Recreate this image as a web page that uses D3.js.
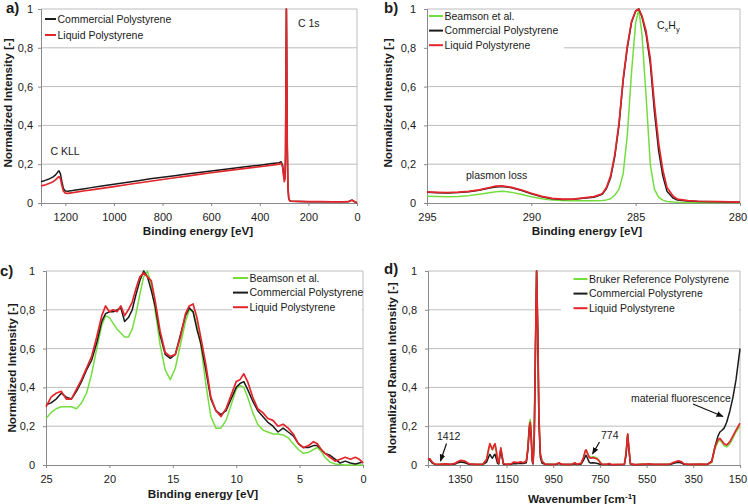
<!DOCTYPE html>
<html>
<head>
<meta charset="utf-8">
<script src="https://cdn.jsdelivr.net/npm/d3@7/dist/d3.min.js"></script>
<style>
  body { margin: 0; background: #fff; }
  svg { font-family: "Liberation Sans", Arial, sans-serif; }
</style>
</head>
<body>
<div class="figure"></div>
<script>
// ---- a) XPS survey spectra ----
var surveyEnergy = [1300, 1290, 1280, 1270, 1260, 1250, 1240, 1232, 1226, 1220,
  1214, 1208, 1200, 1190, 1170, 1150, 1120, 1100, 1050, 1000,
  950, 900, 850, 800, 750, 700, 650, 600, 550, 500,
  450, 400, 350, 320, 312, 306, 302, 299, 296, 294,
  292, 290.5, 289, 287, 284, 281, 277, 270, 240, 200,
  150, 100, 60, 35, 25, 20, 14, 8, 0];
var surveyCommercial = [0.110, 0.113, 0.118, 0.122, 0.128, 0.135, 0.145, 0.158, 0.166, 0.150,
  0.110, 0.075, 0.062, 0.061, 0.064, 0.068, 0.074, 0.078, 0.088, 0.097,
  0.106, 0.115, 0.125, 0.133, 0.141, 0.149, 0.157, 0.165, 0.173, 0.180,
  0.188, 0.195, 0.203, 0.208, 0.213, 0.195, 0.150, 0.125, 0.140, 0.250,
  0.700, 1.000, 0.750, 0.300, 0.080, 0.025, 0.012, 0.009, 0.008, 0.007,
  0.007, 0.006, 0.006, 0.007, 0.013, 0.015, 0.010, 0.005, 0.001];
var surveyLiquid = [0.088, 0.091, 0.094, 0.099, 0.104, 0.110, 0.119, 0.130, 0.136, 0.125,
  0.090, 0.062, 0.051, 0.050, 0.053, 0.057, 0.063, 0.066, 0.075, 0.084,
  0.094, 0.103, 0.112, 0.121, 0.130, 0.139, 0.148, 0.156, 0.164, 0.172,
  0.180, 0.187, 0.195, 0.200, 0.205, 0.185, 0.140, 0.110, 0.125, 0.240,
  0.690, 1.000, 0.760, 0.310, 0.085, 0.028, 0.012, 0.009, 0.008, 0.007,
  0.007, 0.006, 0.006, 0.007, 0.013, 0.014, 0.010, 0.005, 0.001];

// ---- b) C 1s region ----
var c1sEnergy = [295, 294.5, 294, 293.5, 293, 292.5, 292, 291.7, 291.4, 291,
  290.5, 290, 289.5, 289, 288.5, 288, 287.5, 287, 286.6, 286.4,
  286.2, 286.0, 285.8, 285.6, 285.4, 285.2, 285.0, 284.85, 284.7, 284.5,
  284.3, 284.1, 283.9, 283.7, 283.5, 283.2, 283, 282.5, 282, 281, 280];
var c1sBeamson = [0.035, 0.033, 0.032, 0.034, 0.038, 0.045, 0.053, 0.058, 0.060, 0.056,
  0.045, 0.032, 0.022, 0.016, 0.013, 0.012, 0.012, 0.012, 0.013, 0.016,
  0.022, 0.040, 0.070, 0.150, 0.350, 0.670, 0.930, 1.000, 0.870, 0.550,
  0.200, 0.070, 0.030, 0.015, 0.008, 0.005, 0.004, 0.003, 0.003, 0.002, 0.002];
var c1sCommercial = [0.055, 0.053, 0.052, 0.054, 0.058, 0.066, 0.077, 0.083, 0.085, 0.080,
  0.066, 0.048, 0.032, 0.022, 0.018, 0.019, 0.024, 0.030, 0.045, 0.075,
  0.130, 0.240, 0.400, 0.630, 0.800, 0.930, 0.990, 1.000, 0.960, 0.870,
  0.720, 0.470, 0.270, 0.140, 0.060, 0.025, 0.015, 0.010, 0.008, 0.006, 0.004];
var c1sLiquid = [0.057, 0.055, 0.054, 0.056, 0.060, 0.068, 0.080, 0.087, 0.088, 0.082,
  0.068, 0.050, 0.034, 0.024, 0.020, 0.020, 0.026, 0.033, 0.048, 0.080,
  0.140, 0.250, 0.410, 0.640, 0.810, 0.935, 0.990, 1.000, 0.965, 0.885,
  0.745, 0.510, 0.310, 0.170, 0.080, 0.035, 0.020, 0.012, 0.009, 0.007, 0.005];

// ---- c) valence band ----
var vbEnergy = [25, 24.6, 24.2, 23.8, 23.4, 23.0, 22.6, 22.2, 21.8, 21.4,
  21.0, 20.6, 20.3, 20.0, 19.7, 19.4, 19.1, 18.8, 18.5, 18.2,
  17.9, 17.6, 17.3, 17.0, 16.7, 16.4, 16.0, 15.6, 15.2, 14.8,
  14.4, 14.0, 13.7, 13.4, 13.1, 12.8, 12.4, 12.0, 11.6, 11.2,
  10.8, 10.4, 10.0, 9.7, 9.4, 9.1, 8.7, 8.3, 7.9, 7.5,
  7.1, 6.7, 6.3, 5.9, 5.5, 5.1, 4.7, 4.3, 3.9, 3.6,
  3.3, 3.0, 2.6, 2.2, 1.8, 1.4, 1.0, 0.6, 0.3, 0.0];
var vbBeamson = [0.24, 0.27, 0.29, 0.30, 0.30, 0.30, 0.29, 0.32, 0.37, 0.47,
  0.60, 0.72, 0.77, 0.76, 0.73, 0.70, 0.68, 0.66, 0.66, 0.70,
  0.78, 0.88, 0.97, 1.00, 0.93, 0.80, 0.62, 0.49, 0.44, 0.50,
  0.62, 0.74, 0.80, 0.79, 0.72, 0.62, 0.42, 0.25, 0.19, 0.19,
  0.23, 0.31, 0.39, 0.41, 0.40, 0.35, 0.27, 0.21, 0.18, 0.17,
  0.16, 0.16, 0.155, 0.14, 0.11, 0.08, 0.06, 0.065, 0.08, 0.09,
  0.07, 0.04, 0.015, 0.005, 0.002, 0, 0, 0, 0, 0];
var vbCommercial = [0.31, 0.32, 0.34, 0.37, 0.35, 0.34, 0.38, 0.43, 0.49, 0.54,
  0.63, 0.74, 0.78, 0.79, 0.79, 0.80, 0.81, 0.74, 0.76, 0.80,
  0.88, 0.95, 1.00, 0.97, 0.90, 0.82, 0.67, 0.57, 0.55, 0.57,
  0.67, 0.77, 0.81, 0.79, 0.70, 0.63, 0.49, 0.34, 0.28, 0.26,
  0.28, 0.34, 0.40, 0.42, 0.43, 0.39, 0.33, 0.28, 0.25, 0.22,
  0.20, 0.17, 0.19, 0.17, 0.15, 0.11, 0.09, 0.09, 0.10, 0.10,
  0.08, 0.06, 0.05, 0.03, 0.01, 0.02, 0.01, 0.005, 0.01, 0.015];
var vbLiquid = [0.30, 0.35, 0.37, 0.38, 0.34, 0.34, 0.39, 0.44, 0.50, 0.56,
  0.66, 0.77, 0.82, 0.79, 0.80, 0.79, 0.82, 0.77, 0.80, 0.84,
  0.91, 0.97, 0.99, 0.97, 0.95, 0.85, 0.69, 0.58, 0.56, 0.57,
  0.66, 0.78, 0.82, 0.83, 0.76, 0.66, 0.52, 0.35, 0.28, 0.25,
  0.29, 0.36, 0.43, 0.44, 0.47, 0.43, 0.35, 0.29, 0.27, 0.24,
  0.23, 0.20, 0.21, 0.19, 0.16, 0.11, 0.09, 0.10, 0.12, 0.11,
  0.08, 0.06, 0.04, 0.02, 0.03, 0.04, 0.03, 0.04, 0.03, 0.01];

// ---- d) Raman spectra ----
var ramanWavenumber = [1486, 1478, 1468, 1456, 1435, 1412, 1390, 1370, 1358, 1345,
  1328, 1310, 1280, 1250, 1235, 1225, 1221, 1214, 1210, 1204,
  1199, 1193, 1188, 1183, 1178, 1174, 1169, 1163, 1150, 1130,
  1120, 1110, 1100, 1090, 1078, 1065, 1058, 1052, 1048, 1044,
  1040, 1036, 1031, 1026, 1021, 1016, 1011, 1005, 998, 985,
  940, 925, 912, 870, 857, 848, 830, 820, 812, 809,
  803, 796, 790, 780, 770, 760, 750, 742, 720, 711,
  700, 645, 638, 631, 625, 619, 600, 560, 540, 520,
  480, 450, 430, 414, 400, 390, 370, 321, 290, 271,
  257, 244, 236, 228, 218, 207, 193, 180, 167, 150];
var ramanBruker = [0.028, 0.030, 0.014, 0.004, 0.003, 0.005, 0.003, 0.007, 0.016, 0.022,
  0.018, 0.005, 0.003, 0.004, 0.028, 0.085, 0.105, 0.088, 0.078, 0.095,
  0.105, 0.065, 0.018, 0.009, 0.058, 0.085, 0.048, 0.007, 0.003, 0.005,
  0.013, 0.012, 0.011, 0.014, 0.011, 0.018, 0.095, 0.215, 0.235, 0.160,
  0.030, 0.010, 0.150, 0.600, 1.000, 0.700, 0.250, 0.060, 0.020, 0.005,
  0.003, 0.011, 0.003, 0.003, 0.011, 0.003, 0.009, 0.038, 0.072, 0.075,
  0.060, 0.045, 0.040, 0.042, 0.040, 0.034, 0.018, 0.004, 0.003, 0.007,
  0.002, 0.004, 0.058, 0.155, 0.078, 0.006, 0.002, 0.004, 0.005, 0.003,
  0.003, 0.005, 0.014, 0.020, 0.015, 0.006, 0.003, 0.004, 0.003, 0.012,
  0.085, 0.120, 0.128, 0.118, 0.100, 0.093, 0.110, 0.140, 0.170, 0.200];
var ramanCommercial = [0.030, 0.025, 0.010, 0.003, 0.002, 0.004, 0.002, 0.005, 0.012, 0.015,
  0.012, 0.004, 0.002, 0.003, 0.015, 0.045, 0.055, 0.040, 0.035, 0.050,
  0.055, 0.030, 0.008, 0.005, 0.050, 0.080, 0.040, 0.004, 0.002, 0.004,
  0.008, 0.007, 0.008, 0.008, 0.008, 0.012, 0.080, 0.190, 0.210, 0.140,
  0.020, 0.005, 0.140, 0.580, 1.000, 0.680, 0.220, 0.040, 0.010, 0.003,
  0.002, 0.008, 0.002, 0.002, 0.006, 0.002, 0.005, 0.025, 0.045, 0.050,
  0.035, 0.015, 0.010, 0.012, 0.010, 0.008, 0.004, 0.002, 0.002, 0.004,
  0.001, 0.003, 0.050, 0.155, 0.070, 0.004, 0.001, 0.002, 0.003, 0.002,
  0.002, 0.003, 0.010, 0.014, 0.010, 0.004, 0.002, 0.003, 0.003, 0.020,
  0.095, 0.150, 0.170, 0.178, 0.190, 0.220, 0.280, 0.350, 0.440, 0.600];
var ramanLiquid = [0.030, 0.032, 0.015, 0.004, 0.003, 0.006, 0.003, 0.008, 0.018, 0.024,
  0.020, 0.006, 0.003, 0.005, 0.030, 0.090, 0.110, 0.090, 0.080, 0.100,
  0.110, 0.070, 0.020, 0.010, 0.060, 0.088, 0.050, 0.008, 0.003, 0.006,
  0.015, 0.014, 0.012, 0.016, 0.012, 0.020, 0.090, 0.200, 0.220, 0.150,
  0.030, 0.010, 0.150, 0.600, 1.000, 0.700, 0.250, 0.060, 0.020, 0.005,
  0.003, 0.012, 0.003, 0.003, 0.012, 0.003, 0.010, 0.040, 0.075, 0.078,
  0.060, 0.040, 0.035, 0.038, 0.035, 0.030, 0.015, 0.004, 0.003, 0.008,
  0.002, 0.004, 0.060, 0.160, 0.080, 0.006, 0.002, 0.004, 0.006, 0.003,
  0.003, 0.005, 0.015, 0.022, 0.016, 0.006, 0.003, 0.004, 0.003, 0.017,
  0.094, 0.130, 0.137, 0.125, 0.110, 0.103, 0.120, 0.150, 0.180, 0.215];

// axis ticks
var yTicks = [0, 0.2, 0.4, 0.6, 0.8, 1];
var yTickLabels = ["0", "0,2", "0,4", "0,6", "0,8", "1"];
var surveyTicks = [1200, 1000, 800, 600, 400, 200, 0];
var c1sTicks = [295, 290, 285, 280];
var vbTicks = [25, 20, 15, 10, 5, 0];
var ramanTicks = [1350, 1150, 950, 750, 550, 350, 150];

var width = 748;
var height = 504;
var green = "#74dd3e";
var black = "#1b1b1b";
var red = "#e2262b";

var svg = d3.select(".figure")
  .append("svg")
    .attr("width", width)
    .attr("height", height);

// arrow head for the annotations in d)
svg.append("defs").append("marker")
    .attr("id", "arrow")
    .attr("viewBox", "0 0 10 10")
    .attr("refX", 9).attr("refY", 5)
    .attr("markerWidth", 6).attr("markerHeight", 6)
    .attr("orient", "auto")
  .append("path")
    .attr("d", "M0,1 L10,5 L0,9 z")
    .attr("fill", "#111");

function drawPanel(p) {
  var x = d3.scaleLinear().domain(p.domain).range([p.left, p.right]);
  var y = d3.scaleLinear().domain([0, 1]).range([p.bottom, p.top]);
  var g = svg.append("g");

  // gridlines + frame
  g.selectAll(".grid")
    .data(yTicks.slice(1))
    .enter()
    .append("line")
    .attr("x1", p.left).attr("x2", p.right)
    .attr("y1", function(d) { return y(d); })
    .attr("y2", function(d) { return y(d); })
    .attr("stroke", "#bcbcbc");
  g.append("line")
    .attr("x1", p.right).attr("x2", p.right)
    .attr("y1", p.top).attr("y2", p.bottom)
    .attr("stroke", "#bcbcbc");

  var yAxis = d3.axisLeft(y)
    .tickValues(yTicks)
    .tickFormat(function(d, i) { return yTickLabels[i]; })
    .tickSizeOuter(0).tickSize(3).tickPadding(p.yPad);
  var xAxis = d3.axisBottom(x)
    .tickValues(p.xTicks)
    .tickFormat(d3.format("d"))
    .tickSizeOuter(0).tickSize(3).tickPadding(7);

  var ya = g.append("g").attr("transform", "translate(" + p.left + ",0)").call(yAxis);
  var xa = g.append("g").attr("transform", "translate(0," + p.bottom + ")").call(xAxis);
  [ya, xa].forEach(function(a) {
    a.select(".domain").attr("stroke", "#8a8a8a");
    a.selectAll(".tick line").attr("stroke", "#8a8a8a");
    a.selectAll("text")
      .attr("font-size", "11px")
      .attr("font-family", "Liberation Sans, Arial, sans-serif")
      .attr("fill", "#1a1a1a");
  });
  // last label sits on the figure edge, nudge it in a bit
  if (p.right > 700) {
    xa.selectAll(".tick text")
      .filter(function(d, i) { return i === p.xTicks.length - 1; })
      .attr("dx", "-2.5");
  }

  // spectra
  p.series.forEach(function(s) {
    var line = d3.line()
      .x(function(d, i) { return x(s.x[i]); })
      .y(function(d) { return y(d); });
    g.append("path")
      .datum(s.y)
      .attr("d", line)
      .attr("fill", "none")
      .attr("stroke", s.color)
      .attr("stroke-width", s.color === red ? 1.7 : 1.5)
      .attr("stroke-linejoin", "round");
  });

  // legend
  var lg = p.legend;
  if (lg.box) {
    g.append("rect")
      .attr("x", lg.box[0]).attr("y", lg.box[1])
      .attr("width", lg.box[2]).attr("height", lg.box[3])
      .attr("fill", "#fff");
  }
  lg.items.forEach(function(it, i) {
    var yy = lg.y + i * lg.dy;
    g.append("line")
      .attr("x1", lg.x).attr("x2", lg.x + lg.len)
      .attr("y1", yy).attr("y2", yy)
      .attr("stroke", it.color).attr("stroke-width", 2);
    g.append("text")
      .attr("x", lg.x + lg.len + 1.5).attr("y", yy)
      .attr("dy", "0.35em")
      .attr("font-size", "10.5px")
      .attr("fill", "#1a1a1a")
      .text(it.label);
  });

  // titles
  var xt = g.append("text")
    .attr("x", p.xTitle[0]).attr("y", p.xTitle[1])
    .attr("dy", "0.35em")
    .attr("text-anchor", "middle")
    .attr("font-size", "11.7px")
    .attr("font-weight", "bold")
    .attr("fill", "#1a1a1a");
  if (p.xTitleSup) {
    xt.append("tspan").text(p.xTitleText);
    xt.append("tspan").attr("font-size", "8px").attr("dy", "-0.45em").text(p.xTitleSup);
    xt.append("tspan").attr("dy", "0.35em").text("]");
  } else {
    xt.text(p.xTitleText);
  }
  g.append("text")
    .attr("transform", "translate(" + p.yTitle[0] + "," + p.yTitle[1] + ") rotate(-90)")
    .attr("dy", "0.35em")
    .attr("text-anchor", "middle")
    .attr("font-size", "11.7px")
    .attr("font-weight", "bold")
    .attr("fill", "#1a1a1a")
    .text(p.yTitleText);

  g.append("text")
    .attr("x", p.tag[0]).attr("y", p.tag[1])
    .attr("font-size", "15px")
    .attr("font-weight", "bold")
    .attr("fill", "#1a1a1a")
    .text(p.tagText);

  return g;
}

function note(g, txt, xx, yy) {
  return g.append("text")
    .attr("x", xx).attr("y", yy)
    .attr("dy", "0.35em")
    .attr("font-size", "10.5px")
    .attr("fill", "#1a1a1a")
    .text(txt);
}

function arrow(g, x1, y1, x2, y2) {
  g.append("line")
    .attr("x1", x1).attr("y1", y1)
    .attr("x2", x2).attr("y2", y2)
    .attr("stroke", "#111").attr("stroke-width", 1.2)
    .attr("marker-end", "url(#arrow)");
}

// a)
var ga = drawPanel({
  left: 41, right: 357, top: 9, bottom: 203, yPad: 5,
  domain: [1300, 0], xTicks: surveyTicks,
  series: [
    { x: surveyEnergy, y: surveyCommercial, color: black },
    { x: surveyEnergy, y: surveyLiquid, color: red }
  ],
  legend: { x: 45, y: 19, dy: 16, len: 11, box: null,
    items: [{ label: "Commercial Polystyrene", color: black },
            { label: "Liquid Polystyrene", color: red }] },
  xTitleText: "Binding energy [eV]", xTitle: [198, 231],
  yTitleText: "Normalized Intensity [-]", yTitle: [8, 103],
  tagText: "a)", tag: [6, 13]
});
note(ga, "C KLL", 50.5, 151);
note(ga, "C 1s", 298, 23);

// b)
var gb = drawPanel({
  left: 427, right: 740, top: 9, bottom: 203, yPad: 8,
  domain: [295, 280], xTicks: c1sTicks,
  series: [
    { x: c1sEnergy, y: c1sBeamson, color: green },
    { x: c1sEnergy, y: c1sCommercial, color: black },
    { x: c1sEnergy, y: c1sLiquid, color: red }
  ],
  legend: { x: 429, y: 16, dy: 14.6, len: 14, box: [428, 10, 136, 43],
    items: [{ label: "Beamson et al.", color: green },
            { label: "Commercial Polystyrene", color: black },
            { label: "Liquid Polystyrene", color: red }] },
  xTitleText: "Binding energy [eV]", xTitle: [587, 231],
  yTitleText: "Normalized Intensity [-]", yTitle: [387.5, 103],
  tagText: "b)", tag: [384, 13]
});
var cxhy = note(gb, "C", 657, 25);
cxhy.append("tspan").attr("font-size", "7.5px").attr("dy", "3").text("x");
cxhy.append("tspan").attr("dy", "-3").text("H");
cxhy.append("tspan").attr("font-size", "7.5px").attr("dy", "3").text("y");
note(gb, "plasmon loss", 466, 175);

// c)
drawPanel({
  left: 46, right: 363, top: 271, bottom: 465, yPad: 8,
  domain: [25, 0], xTicks: vbTicks,
  series: [
    { x: vbEnergy, y: vbBeamson, color: green },
    { x: vbEnergy, y: vbCommercial, color: black },
    { x: vbEnergy, y: vbLiquid, color: red }
  ],
  legend: { x: 233, y: 278, dy: 14.6, len: 15, box: [232, 272, 130, 44],
    items: [{ label: "Beamson et al.", color: green },
            { label: "Commercial Polystyrene", color: black },
            { label: "Liquid Polystyrene", color: red }] },
  xTitleText: "Binding energy [eV]", xTitle: [203, 494],
  yTitleText: "Normalized Intensity [-]", yTitle: [12, 368],
  tagText: "c)", tag: [0, 276]
});

// d)
var gd = drawPanel({
  left: 428, right: 740, top: 271, bottom: 465, yPad: 8,
  domain: [1486, 150], xTicks: ramanTicks,
  series: [
    { x: ramanWavenumber, y: ramanBruker, color: green },
    { x: ramanWavenumber, y: ramanCommercial, color: black },
    { x: ramanWavenumber, y: ramanLiquid, color: red }
  ],
  legend: { x: 573.5, y: 279, dy: 14.6, len: 14, box: [561, 272, 178, 44],
    items: [{ label: "Bruker Reference Polystyrene", color: green },
            { label: "Commercial Polystyrene", color: black },
            { label: "Liquid Polystyrene", color: red }] },
  xTitleText: "Wavenumber [cm", xTitleSup: "-1", xTitle: [582, 498.5],
  yTitleText: "Normalized Raman Intensity [-]", yTitle: [392, 368],
  tagText: "d)", tag: [384, 274]
});
note(gd, "1412", 437, 436);
arrow(gd, 446.5, 443.5, 440.5, 461);
note(gd, "774", 601, 435);
arrow(gd, 599.5, 442, 592.5, 454);
note(gd, "material fluorescence", 631, 398);
arrow(gd, 693, 404, 723, 416.5);
</script>
</body>
</html>
